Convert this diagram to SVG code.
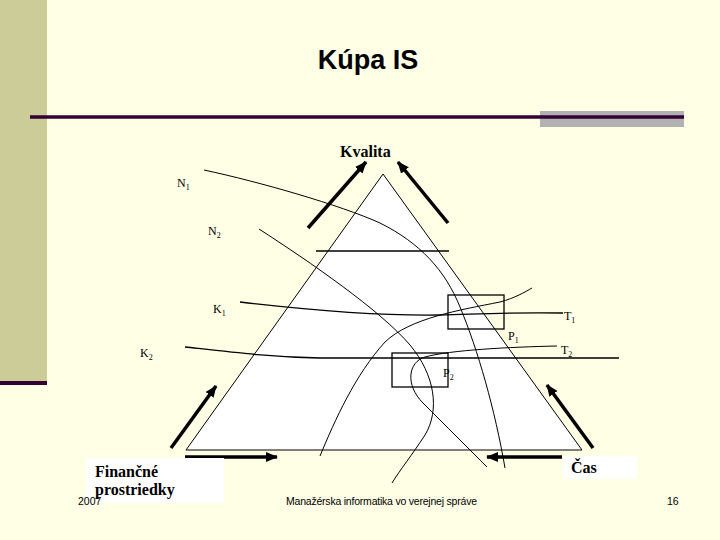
<svg xmlns="http://www.w3.org/2000/svg" width="720" height="540" viewBox="0 0 720 540">
<defs>
<marker id="ah" markerUnits="userSpaceOnUse" markerWidth="14" markerHeight="12" refX="11" refY="5" orient="auto">
<path d="M0,0 L12,5 L0,10 Z" fill="#000"/>
</marker>
<style>
.thin{fill:none;stroke:#000;stroke-width:1}
.mid{fill:none;stroke:#000;stroke-width:1.3}
.arr{fill:none;stroke:#000;stroke-width:3.5;marker-end:url(#ah)}
.lbl{font-family:"Liberation Serif","Times New Roman",serif;font-size:12px;fill:#000}
.big{font-family:"Liberation Serif","Times New Roman",serif;font-size:16px;font-weight:bold;fill:#000}
.foot{font-family:"Liberation Sans",Arial,sans-serif;font-size:10.5px;fill:#000}
</style>
</defs>
<rect width="720" height="540" fill="#FFFFE5"/>
<rect x="0" y="0" width="47" height="383" fill="#CCCC99"/>
<rect x="0" y="381" width="47" height="4" fill="#330033"/>
<rect x="540" y="111" width="144" height="16" fill="#B2B2B2"/>
<line x1="30" y1="117" x2="684" y2="117" stroke="#330033" stroke-width="3.5"/>
<text x="368" y="69" text-anchor="middle" font-family="Liberation Sans, Arial, sans-serif" font-size="27" font-weight="bold">Kúpa IS</text>

<g id="triangle">
<polygon points="383,174 186,450 582,450" fill="#FFFFFF" stroke="#000" stroke-width="1"/>
</g>
<g id="boxes">
<rect x="448" y="295" width="56" height="34" class="mid"/>
<rect x="392" y="353" width="56" height="34" class="mid"/>
</g>

<g id="connectors">
<path class="mid" d="M316,251 H449"/>
<path class="thin" d="M204,170 C260,182 340,205 380,223 C420,243 445,270 460,307 C478,350 495,410 505,468"/>
<path class="thin" d="M259,229 C310,262 380,310 410,345 C435,375 440,410 425,435 C412,455 400,470 392,483"/>
<path class="mid" d="M240,302 C300,309 380,316 440,315 C480,314 510,312 563,313"/>
<path class="mid" d="M185,347 C230,352 270,357 320,358 L619,358"/>
<path class="thin" d="M557,346 C510,347 450,350 425,357 C408,362 405,385 423,403 C445,425 470,450 487,467"/>
<path class="thin" d="M320,456 C335,420 355,375 385,342 C410,318 460,310 500,302 C515,298 525,292 532,288"/>
<line class="arr" x1="308" y1="228" x2="366" y2="162"/>
<line class="arr" x1="448" y1="223" x2="398" y2="162"/>
<line class="arr" x1="171" y1="448" x2="216" y2="386"/>
<line class="arr" x1="185" y1="457" x2="277" y2="457"/>
<line class="arr" x1="562" y1="457" x2="487" y2="457"/>
<line class="arr" x1="593" y1="448" x2="547" y2="385"/>
</g>

<g id="labels">
<text class="big" x="340" y="157">Kvalita</text>
<text class="lbl" x="177" y="187">N<tspan font-size="8" dy="3">1</tspan></text>
<text class="lbl" x="208" y="235">N<tspan font-size="8" dy="3">2</tspan></text>
<text class="lbl" x="213" y="313">K<tspan font-size="8" dy="3">1</tspan></text>
<text class="lbl" x="140" y="357">K<tspan font-size="8" dy="3">2</tspan></text>
<text class="lbl" x="564" y="320">T<tspan font-size="8" dy="3">1</tspan></text>
<text class="lbl" x="561" y="354">T<tspan font-size="8" dy="3">2</tspan></text>
<text class="lbl" x="508" y="340">P<tspan font-size="8" dy="3">1</tspan></text>
<text class="lbl" x="443" y="377">P<tspan font-size="8" dy="3">2</tspan></text>
</g>

<g id="financne">
<rect x="86" y="458" width="138" height="45" fill="#FFFFFF"/>
<text class="big" x="95" y="477">Finančné</text>
<text class="big" x="95" y="495">prostriedky</text>
</g>
<g id="cas">
<rect x="563" y="456" width="74" height="23" fill="#FFFFFF"/>
<text class="big" x="571" y="473">Čas</text>
</g>

<text class="foot" x="78" y="505">2007</text>
<text class="foot" x="286" y="505" textLength="191" lengthAdjust="spacing">Manažérska informatika vo verejnej správe</text>
<text class="foot" x="667" y="505">16</text>
</svg>
